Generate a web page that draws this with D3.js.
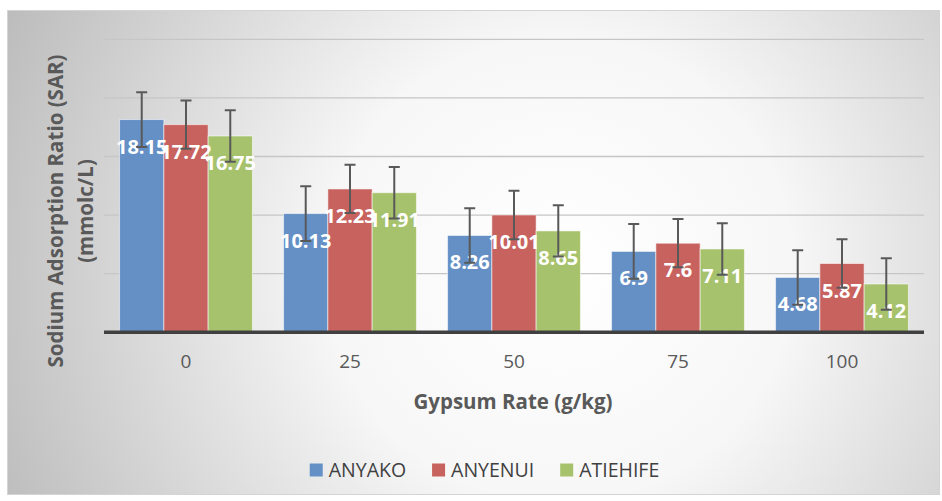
<!DOCTYPE html>
<html>
<head>
<meta charset="utf-8">
<script src="https://cdn.jsdelivr.net/npm/d3@7"></script>
<style>
  html, body { margin: 0; padding: 0; background: #ffffff; }
  svg { display: block; }
</style>
</head>
<body>
<svg id="chart" width="942" height="501"></svg>
<script>
// ---- data ----
const categories = ["0", "25", "50", "75", "100"];
const seriesNames = ["ANYAKO", "ANYENUI", "ATIEHIFE"];
const anyako   = [18.15, 10.13, 8.26, 6.9, 4.68];
const anyenui  = [17.72, 12.23, 10.01, 7.6, 5.87];
const atiehife = [16.75, 11.91, 8.65, 7.11, 4.12];
const errAnyako   = [2.33, 2.33, 2.33, 2.33, 2.33];
const errAnyenui  = [2.06, 2.06, 2.06, 2.06, 2.06];
const errAtiehife = [2.19, 2.19, 2.19, 2.19, 2.19];
const yTicks = [5, 10, 15, 20, 25];
const colors = ["#6490c6", "#c8625f", "#a7c26c"];
const yTitleLines = ["Sodium Adsorption Ratio (SAR)", "(mmolc/L)"];
const xTitle = "Gypsum Rate (g/kg)";

const values = [anyako, anyenui, atiehife];
const errors = [errAnyako, errAnyenui, errAtiehife];

const svg = d3.select("#chart");
const font = "'Open Sans', 'Liberation Sans', sans-serif";

// ---- background ----
const defs = svg.append("defs");
const grad = defs.append("radialGradient")
  .attr("id", "bg")
  .attr("gradientUnits", "userSpaceOnUse")
  .attr("cx", 560).attr("cy", 270).attr("r", 610);
grad.append("stop").attr("offset", 0).attr("stop-color", "#ffffff");
grad.append("stop").attr("offset", 0.38).attr("stop-color", "#f7f7f7");
grad.append("stop").attr("offset", 1).attr("stop-color", "#bcbcbc");

svg.append("rect")
  .attr("x", 7.5).attr("y", 10.5).attr("width", 932).attr("height", 484)
  .attr("fill", "url(#bg)")
  .attr("stroke", "#d4d4d4").attr("stroke-width", 1);

// ---- scales ----
const plot = { left: 104, right: 924, top: 39.3, bottom: 332.3 };
const x0 = d3.scaleBand().domain(categories)
  .range([plot.left, plot.right]).paddingInner(0.19).paddingOuter(0.095);
const x1 = d3.scaleBand().domain(seriesNames).range([0, x0.bandwidth()]);
const y = d3.scaleLinear().domain([0, 25]).range([plot.bottom, plot.top]);

// ---- gridlines ----
svg.append("g").selectAll("line").data(yTicks).join("line")
  .attr("x1", plot.left).attr("x2", plot.right)
  .attr("y1", d => y(d)).attr("y2", d => y(d))
  .attr("stroke", "#c6c6c6").attr("stroke-width", 1.3);

// ---- bars ----
const flat = [];
categories.forEach((c, i) => {
  seriesNames.forEach((s, j) => {
    flat.push({ cat: c, series: s, si: j, v: values[j][i], e: errors[j][i] });
  });
});

svg.append("g").selectAll("rect").data(flat).join("rect")
  .attr("x", d => x0(d.cat) + x1(d.series))
  .attr("y", d => y(d.v))
  .attr("width", x1.bandwidth())
  .attr("height", d => y(0) - y(d.v))
  .attr("fill", d => colors[d.si])
  .attr("stroke", "rgba(255,255,255,0.55)").attr("stroke-width", 1);

// ---- x axis ----
const xAxis = svg.append("g")
  .attr("transform", `translate(0,${plot.bottom})`)
  .call(d3.axisBottom(x0).tickSize(0).tickPadding(22));
xAxis.select(".domain").attr("stroke", "#404040").attr("stroke-width", 3.5)
  .attr("d", `M${plot.left},0H${plot.right}`);
xAxis.selectAll("text")
  .attr("font-family", font).attr("font-size", 19).attr("fill", "#595959");

// ---- data labels ----
svg.append("g").selectAll("text").data(flat).join("text")
  .attr("x", d => x0(d.cat) + x1(d.series) + x1.bandwidth() / 2)
  .attr("y", d => y(d.v) + 34)
  .attr("text-anchor", "middle")
  .attr("font-family", font).attr("font-weight", "bold").attr("font-size", 20)
  .attr("fill", "#ffffff")
  .text(d => d.v);

// ---- error bars ----
const eb = svg.append("g").attr("stroke", "#595959").attr("stroke-width", 2).attr("fill", "none");
eb.selectAll("path").data(flat).join("path")
  .attr("d", d => {
    const cx = x0(d.cat) + x1(d.series) + x1.bandwidth() / 2;
    const t = y(d.v + d.e), b = y(d.v - d.e);
    return `M${cx - 5.5},${t}H${cx + 5.5}M${cx},${t}V${b}M${cx - 5.5},${b}H${cx + 5.5}`;
  });

// ---- axis titles ----
const yt = svg.append("text")
  .attr("transform", `translate(0,${211}) rotate(-90)`)
  .attr("text-anchor", "middle")
  .attr("font-family", font).attr("font-weight", "bold").attr("font-size", 20.5)
  .attr("fill", "#595959");
yTitleLines.forEach((t, i) => {
  yt.append("tspan").attr("x", 0).attr("y", 63 + i * 30).text(t);
});

svg.append("text")
  .attr("x", (plot.left + plot.right) / 2 - 1).attr("y", 409)
  .attr("text-anchor", "middle")
  .attr("font-family", font).attr("font-weight", "bold").attr("font-size", 20.5)
  .attr("fill", "#595959")
  .text(xTitle);

// ---- legend ----
const legend = svg.append("g");
const items = legend.selectAll("g").data(seriesNames).join("g");
items.append("rect").attr("width", 13).attr("height", 13).attr("y", -6.5)
  .attr("fill", (d, i) => colors[i]);
items.append("text").attr("x", 19).attr("y", 7)
  .attr("font-family", font).attr("font-size", 19.5).attr("fill", "#404040")
  .text(d => d);
let pos = 0;
const offsets = [];
items.each(function () {
  offsets.push(pos);
  const w = d3.select(this).select("text").node().getComputedTextLength();
  pos += 19 + w + 26;
});
const totalW = pos - 26;
const legStart = 484.5 - totalW / 2;
items.attr("transform", (d, i) => `translate(${legStart + offsets[i]},470)`);
</script>
</body>
</html>
